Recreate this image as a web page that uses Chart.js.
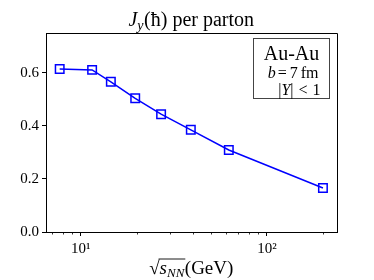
<!DOCTYPE html>
<html>
<head>
<meta charset="utf-8">
<script src="https://cdn.jsdelivr.net/npm/chart.js@4/dist/chart.umd.min.js"></script>
<style>
  html, body { margin: 0; padding: 0; background: #fff; }
  #wrap { width: 374px; height: 280px; }
</style>
</head>
<body>
<div id="wrap"><canvas id="myChart" width="374" height="280"></canvas></div>
<script>
// collision energies (GeV) and J_y per parton
const energies = [7.7, 11.5, 14.5, 19.6, 27, 39, 62.4, 200];
const jyValues = [0.614, 0.611, 0.566, 0.504, 0.444, 0.385, 0.309, 0.166];
const yTicks = [0.0, 0.2, 0.4, 0.6];
const xMajorTicks = [10, 100];
const xMajorLabels = ['10\u00B9', '10\u00B2'];
const xMinorTicks = [7, 8, 9, 20, 30, 40, 50, 60, 70, 80, 90, 200];

const serif = "'Liberation Serif', 'DejaVu Serif', serif";

// draws a run of text pieces, centred or right-aligned at x
function drawPieces(ctx, pieces, x, y, align) {
    let total = 0;
    pieces.forEach(p => { ctx.font = p.f; p.w = ctx.measureText(p.t).width + (p.gap || 0); total += p.w; });
    let px = align === 'center' ? x - total / 2 : x - total;
    ctx.textAlign = 'left';
    pieces.forEach(p => {
        ctx.font = p.f;
        p.x = px;
        ctx.fillText(p.t, px + (p.gap || 0) / 2, y + (p.dy || 0));
        px += p.w;
    });
    return pieces;
}

// extra drawing: title, axis label, frame, annotation box, minor ticks
const decorations = {
    id: 'decorations',
    afterDraw(chart) {
        const ctx = chart.ctx;
        const area = chart.chartArea;
        const xs = chart.scales.x;
        ctx.save();
        ctx.fillStyle = '#000';
        ctx.strokeStyle = '#000';
        ctx.textBaseline = 'alphabetic';

        // frame top / right
        ctx.lineWidth = 1;
        ctx.beginPath();
        ctx.moveTo(area.left, area.top + 0.5);
        ctx.lineTo(area.right + 0.5, area.top + 0.5);
        ctx.lineTo(area.right + 0.5, area.bottom);
        ctx.stroke();

        // minor ticks on x axis
        ctx.lineWidth = 0.8;
        xMinorTicks.forEach(v => {
            const px = Math.round(xs.getPixelForValue(v)) + 0.5;
            ctx.beginPath();
            ctx.moveTo(px, area.bottom);
            ctx.lineTo(px, area.bottom + 2.5);
            ctx.stroke();
        });

        const cx = (area.left + area.right) / 2;

        // title  J_y(ħ) per parton
        drawPieces(ctx, [
            { t: 'J', f: 'italic 20px ' + serif },
            { t: 'y', f: 'italic 14px ' + serif, dy: 4 },
            { t: '(\u0127) per parton', f: '20px ' + serif, gap: 1 }
        ], cx, 26, 'center');

        // x axis label  √s_NN (GeV)
        const ly = 274;
        const lp = drawPieces(ctx, [
            { t: '\u221A', f: '19px ' + serif },
            { t: 's', f: 'italic 19px ' + serif },
            { t: 'NN', f: 'italic 13px ' + serif, dy: 3 },
            { t: '(GeV)', f: '19px ' + serif, gap: 1 }
        ], cx, ly, 'center');
        ctx.lineWidth = 0.9;
        ctx.beginPath();
        ctx.moveTo(lp[1].x - 1, ly - 15);
        ctx.lineTo(lp[2].x + lp[2].w + 1, ly - 15);
        ctx.stroke();

        // annotation box
        const bx = 253.5, by = 38.5, bw = 76, bh = 60;
        ctx.fillStyle = '#fff';
        ctx.fillRect(bx, by, bw, bh);
        ctx.strokeStyle = '#444';
        ctx.lineWidth = 1;
        ctx.strokeRect(bx, by, bw, bh);
        ctx.fillStyle = '#000';
        ctx.textAlign = 'center';
        ctx.font = '20px ' + serif;
        ctx.fillText('Au-Au', bx + bw / 2, by + 21);

        const rx = bx + bw - 9;
        drawPieces(ctx, [
            { t: 'b', f: 'italic 16px ' + serif },
            { t: '=', f: '16px ' + serif, gap: 4 },
            { t: '7', f: '16px ' + serif, gap: 2 },
            { t: 'fm', f: '16px ' + serif, gap: 4 }
        ], rx, by + 39, 'right');
        drawPieces(ctx, [
            { t: '|', f: '16px ' + serif },
            { t: 'Y', f: 'italic 16px ' + serif },
            { t: '|', f: '16px ' + serif },
            { t: '<', f: '16px ' + serif, gap: 10 },
            { t: '1', f: '16px ' + serif }
        ], rx, by + 56, 'right');

        ctx.restore();
    }
};

const data = {
    datasets: [{
        label: 'Jy',
        data: energies.map((e, i) => ({ x: e, y: jyValues[i] })),
        borderColor: '#0000ff',
        borderWidth: 1.5,
        pointStyle: 'rect',
        pointRadius: 6,
        pointBorderWidth: 1.5,
        pointBorderColor: '#0000ff',
        pointBackgroundColor: 'rgba(0,0,0,0)',
        fill: false,
        tension: 0
    }]
};

const config = {
    type: 'line',
    data: data,
    options: {
        responsive: false,
        animation: false,
        layout: { padding: { top: 33, right: 37, left: 0, bottom: 0 } },
        plugins: {
            legend: { display: false },
            title: { display: false },
            tooltip: { enabled: false }
        },
        scales: {
            x: {
                type: 'logarithmic',
                min: 6.5,
                max: 238,
                afterBuildTicks: (scale) => { scale.ticks = xMajorTicks.map(v => ({ value: v })); },
                afterFit: (scale) => { scale.height = 48; },
                border: { display: true, color: '#000', width: 1 },
                grid: { drawOnChartArea: false, drawTicks: true, tickLength: 4, color: '#000' },
                ticks: {
                    autoSkip: false,
                    maxRotation: 0,
                    padding: 4,
                    color: '#000',
                    font: { family: serif, size: 15 },
                    callback: (v) => xMajorLabels[xMajorTicks.indexOf(v)] || ''
                }
            },
            y: {
                min: 0,
                max: 0.75,
                afterBuildTicks: (scale) => { scale.ticks = yTicks.map(v => ({ value: v })); },
                afterFit: (scale) => { scale.width = 46; },
                border: { display: true, color: '#000', width: 1 },
                grid: { drawOnChartArea: false, drawTicks: true, tickLength: 4, color: '#000' },
                ticks: {
                    padding: 3,
                    color: '#000',
                    font: { family: serif, size: 15 },
                    callback: (v) => Number(v).toFixed(1)
                }
            }
        }
    },
    plugins: [decorations]
};

const ctx = document.getElementById('myChart').getContext('2d');
const myChart = new Chart(ctx, config);
</script>
</body>
</html>
